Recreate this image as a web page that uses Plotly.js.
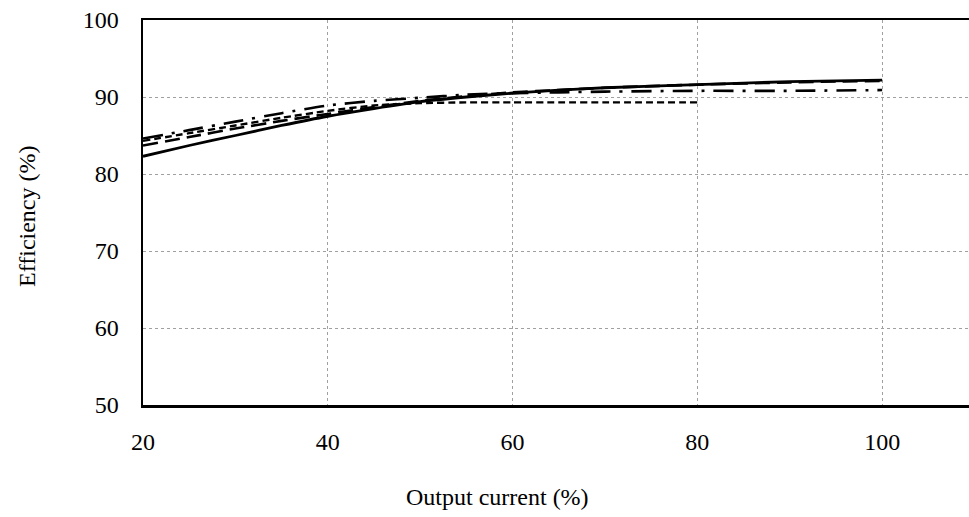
<!DOCTYPE html>
<html>
<head>
<meta charset="utf-8">
<script src="https://cdn.plot.ly/plotly-3.0.1.min.js"></script>
<style>
  html, body { margin: 0; padding: 0; background: #fff; }
  #chart { width: 969px; height: 517px; }
</style>
</head>
<body>
<div id="chart"></div>
<script>
// Output current (%) sample points
const currentFull = [20, 25, 30, 35, 40, 45, 50, 55, 60, 65, 70, 80, 90, 100];
const currentTo80 = [20, 25, 30, 35, 40, 45, 50, 55, 60, 65, 70, 80];

// Efficiency (%) per curve
const effSolid    = [82.3, 83.7, 85.0, 86.3, 87.5, 88.5, 89.4, 90.0, 90.5, 90.9, 91.2, 91.6, 92.0, 92.2];
const effLongDash = [83.7, 84.8, 85.9, 86.9, 87.8, 88.7, 89.5, 90.1, 90.6, 90.9, 91.2, 91.6, 91.9, 92.1];
const effDashDot  = [84.6, 85.7, 86.8, 87.9, 88.9, 89.5, 89.9, 90.3, 90.5, 90.6, 90.7, 90.8, 90.8, 90.9];
const effShortDash= [84.3, 85.3, 86.3, 87.3, 88.2, 88.9, 89.2, 89.3, 89.3, 89.3, 89.3, 89.3];

const xTicks = [20, 40, 60, 80, 100];
const yTicks = [50, 60, 70, 80, 90, 100];

const serif = '"Liberation Serif", "Times New Roman", serif';

const traces = [
  { x: currentFull, y: effLongDash, line: { color: '#000', width: 2.6, dash: '15px,7px' } },
  { x: currentTo80, y: effShortDash, line: { color: '#000', width: 2.4, dash: '7px,4px' } },
  { x: currentFull, y: effDashDot, line: { color: '#000', width: 2.6, dash: '20px,9px,3px,9px' } },
  { x: currentFull, y: effSolid, line: { color: '#000', width: 2.8 } }
].map(t => Object.assign({ type: 'scatter', mode: 'lines', hoverinfo: 'skip' }, t));
traces.forEach(t => { t.line.shape = 'spline'; t.line.smoothing = 0.6; });

const labelFont = { family: serif, size: 24, color: '#000' };

const layout = {
  width: 969, height: 517,
  margin: { l: 143, r: 0, t: 20, b: 112 },
  paper_bgcolor: '#fff', plot_bgcolor: '#fff',
  showlegend: false,
  font: labelFont,
  xaxis: {
    range: [20, 109.4], tickvals: xTicks, ticktext: xTicks.map(String),
    showgrid: true, gridcolor: '#a0a0a0', gridwidth: 1, griddash: 'dot',
    showline: true, linecolor: '#000', linewidth: 2.5, mirror: true,
    zeroline: false, ticks: '', ticklabelstandoff: 14,
    tickfont: labelFont
  },
  yaxis: {
    range: [50, 100], tickvals: yTicks, ticktext: yTicks.map(String),
    showgrid: true, gridcolor: '#a0a0a0', gridwidth: 1, griddash: 'dot',
    showline: true, linecolor: '#000', linewidth: 2.5, mirror: true,
    zeroline: false, ticks: '', ticklabelstandoff: 17,
    tickfont: labelFont
  },
  annotations: [
    { text: 'Output current (%)', xref: 'paper', yref: 'paper',
      xanchor: 'center', yanchor: 'middle', showarrow: false, font: labelFont },
    { text: 'Efficiency (%)', xref: 'paper', yref: 'paper',
      xanchor: 'center', yanchor: 'middle', showarrow: false, textangle: -90, font: labelFont }
  ]
};

// place the axis titles in pixel terms relative to the plot area
const plotW = 969 - 143, plotH = 517 - 20 - 112;
layout.annotations[0].x = (497 - 143) / plotW;
layout.annotations[0].y = (405 - 497) / plotH;
layout.annotations[1].x = (27 - 143) / plotW;
layout.annotations[1].y = (405 - 217) / plotH;

Plotly.newPlot('chart', traces, layout, { staticPlot: true, displayModeBar: false });
</script>
</body>
</html>
